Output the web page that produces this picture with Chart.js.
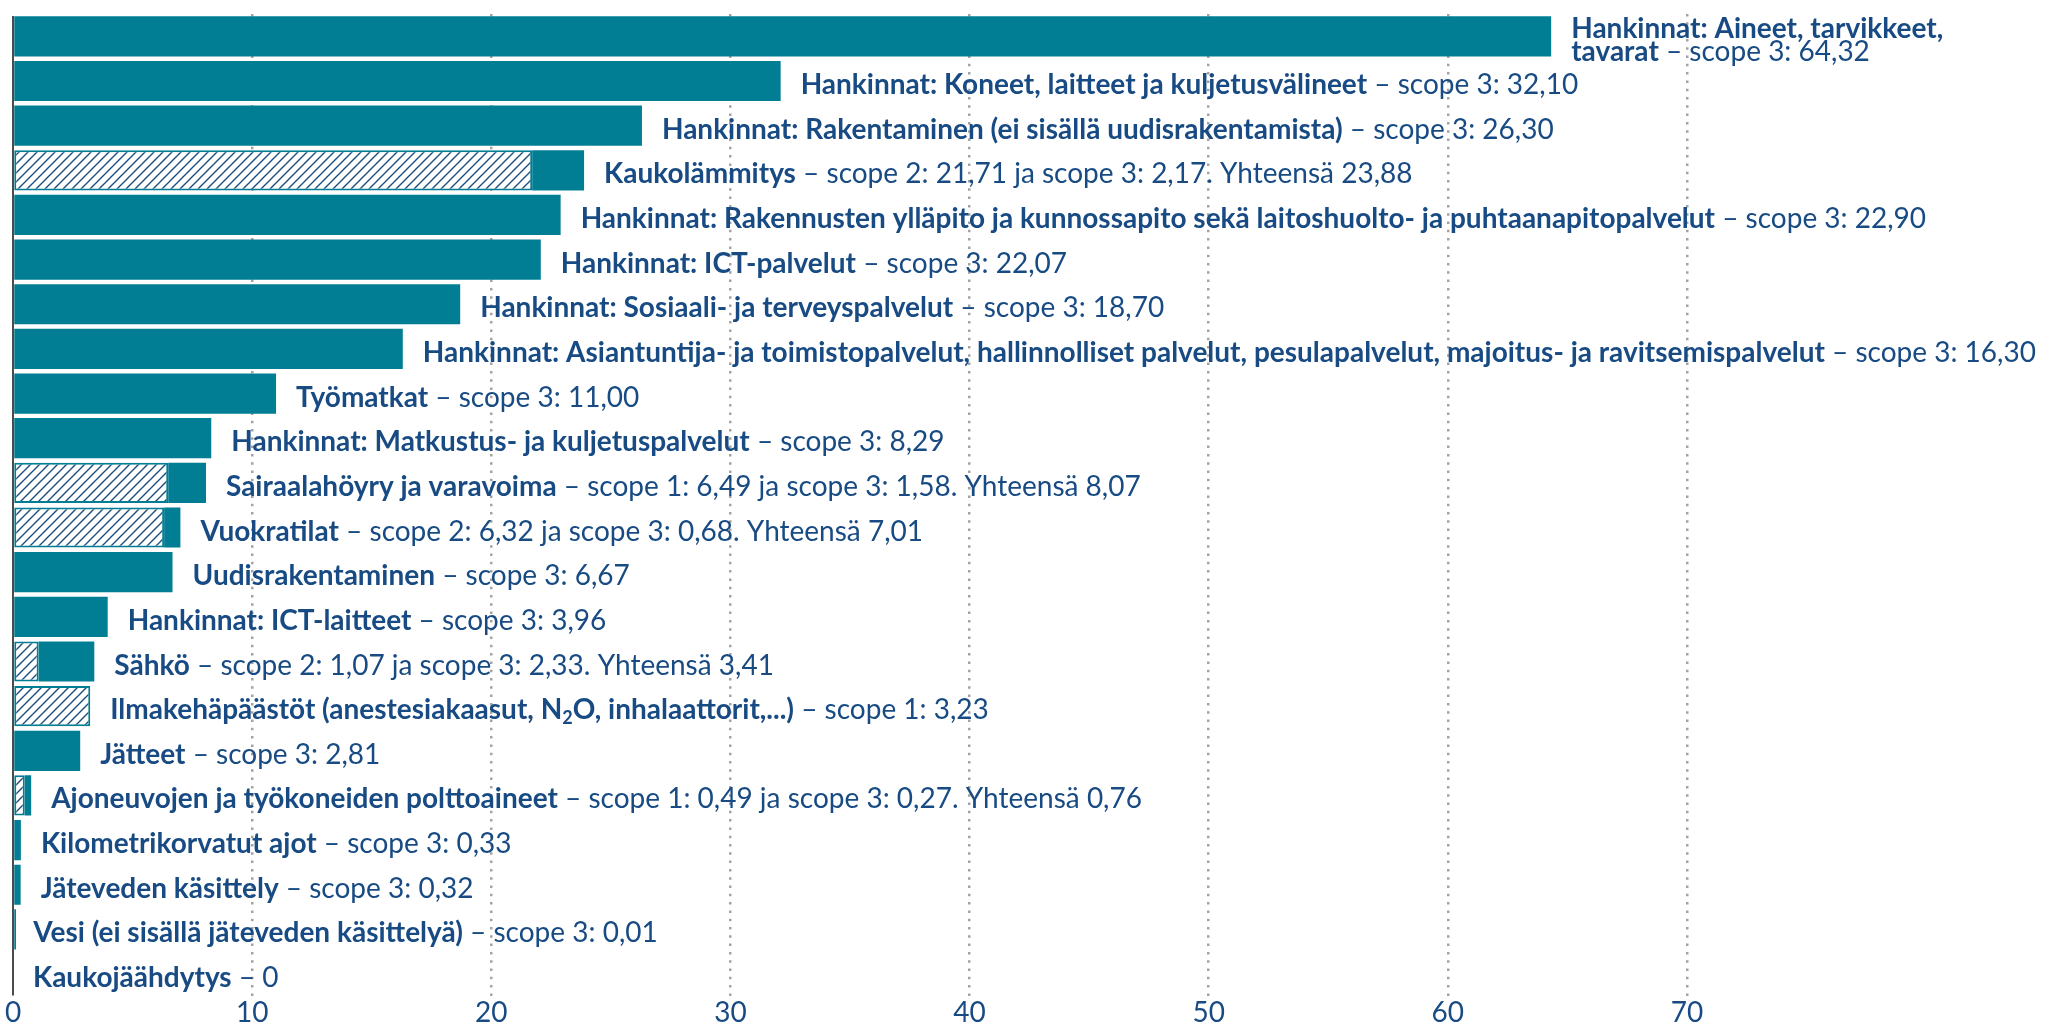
<!DOCTYPE html>
<html lang="fi">
<head>
  <meta charset="UTF-8" />
  <title>Päästöt luokittain</title>
  <script src="https://cdn.jsdelivr.net/npm/chart.js"></script>
  <style>
    html, body { margin: 0; padding: 0; background: #fff; }
    #wrap { width: 2049px; height: 1030px; }
  </style>
</head>
<body>
  <div id="wrap"><canvas id="chart" width="2049" height="1030"></canvas></div>

  <script>
    // Data (top to bottom); an array label means a line break
    const categories = [
      ['Hankinnat: Aineet, tarvikkeet,', 'tavarat'],
      'Hankinnat: Koneet, laitteet ja kuljetusvälineet',
      'Hankinnat: Rakentaminen (ei sisällä uudisrakentamista)',
      'Kaukolämmitys',
      'Hankinnat: Rakennusten ylläpito ja kunnossapito sekä laitoshuolto- ja puhtaanapitopalvelut',
      'Hankinnat: ICT-palvelut',
      'Hankinnat: Sosiaali- ja terveyspalvelut',
      'Hankinnat: Asiantuntija- ja toimistopalvelut, hallinnolliset palvelut, pesulapalvelut, majoitus- ja ravitsemispalvelut',
      'Työmatkat',
      'Hankinnat: Matkustus- ja kuljetuspalvelut',
      'Sairaalahöyry ja varavoima',
      'Vuokratilat',
      'Uudisrakentaminen',
      'Hankinnat: ICT-laitteet',
      'Sähkö',
      'Ilmakehäpäästöt (anestesiakaasut, N₂O, inhalaattorit,...)',
      'Jätteet',
      'Ajoneuvojen ja työkoneiden polttoaineet',
      'Kilometrikorvatut ajot',
      'Jäteveden käsittely',
      'Vesi (ei sisällä jäteveden käsittelyä)',
      'Kaukojäähdytys'
    ];
    // scope number of the hatched (scope 1 / scope 2) part, 0 = none
    const directScope  = [0, 0, 0, 2, 0, 0, 0, 0, 0, 0, 1, 2, 0, 0, 2, 1, 0, 1, 0, 0, 0, 0];
    const directValues = [0, 0, 0, 21.71, 0, 0, 0, 0, 0, 0, 6.49, 6.32, 0, 0, 1.07, 3.23, 0, 0.49, 0, 0, 0, 0];
    const scope3Values = [64.32, 32.10, 26.30, 2.17, 22.90, 22.07, 18.70, 16.30, 11.00, 8.29, 1.58, 0.68, 6.67, 3.96, 2.33, 0, 2.81, 0.27, 0.33, 0.32, 0.01, 0];
    const totals       = [64.32, 32.10, 26.30, 23.88, 22.90, 22.07, 18.70, 16.30, 11.00, 8.29, 8.07, 7.01, 6.67, 3.96, 3.41, 3.23, 2.81, 0.76, 0.33, 0.32, 0.01, 0];
    const xTicks = [0, 10, 20, 30, 40, 50, 60, 70];

    const TEAL = '#017e93';
    const NAVY = '#184b83';
    const FONT = 'Lato, "Open Sans", sans-serif';
    const FS = 28;

    const fmt = v => v.toFixed(2).replace('.', ',');

    function suffixFor(i) {
      const d = directValues[i], s = scope3Values[i];
      if (d > 0 && s > 0) return `– scope ${directScope[i]}: ${fmt(d)} ja scope 3: ${fmt(s)}. Yhteensä ${fmt(totals[i])}`;
      if (d > 0) return `– scope ${directScope[i]}: ${fmt(d)}`;
      if (s > 0) return `– scope 3: ${fmt(s)}`;
      return '– 0';
    }

    function hatchPattern(ctx) {
      const s = 9;
      const c = document.createElement('canvas');
      c.width = s; c.height = s;
      const g = c.getContext('2d');
      g.fillStyle = '#fff';
      g.fillRect(0, 0, s, s);
      g.strokeStyle = '#1b4d7e';
      g.lineWidth = 1.4;
      g.beginPath();
      g.moveTo(0, s); g.lineTo(s, 0);
      g.moveTo(-1, 1); g.lineTo(1, -1);
      g.moveTo(s - 1, s + 1); g.lineTo(s + 1, s - 1);
      g.stroke();
      return ctx.createPattern(c, 'repeat');
    }

    // split a label into styled pieces (words / spaces / line breaks)
    function piecesFor(i) {
      const runs = [];
      const name = [].concat(categories[i]);
      name.forEach((part, k) => {
        if (k > 0) runs.push({ br: true });
        part.split(/(₂)/).forEach(p => {
          if (p === '₂') runs.push({ t: '2', bold: true, sub: true });
          else if (p) runs.push({ t: p, bold: true });
        });
      });
      runs.push({ t: ' ' + suffixFor(i), bold: false });
      const pieces = [];
      runs.forEach(r => {
        if (r.br) { pieces.push({ br: true }); return; }
        r.t.split(/(\s+)/).forEach(w => {
          if (w) pieces.push({ t: w, bold: r.bold, sub: r.sub, space: /^\s+$/.test(w) });
        });
      });
      return pieces;
    }

    function setFont(ctx, p) {
      const size = p.sub ? Math.round(FS * 0.65) : FS;
      ctx.font = `${p.bold ? 700 : 400} ${size}px ${FONT}`;
    }

    const labelPlugin = {
      id: 'barLabels',
      afterDatasetsDraw(chart) {
        const { ctx, scales: { x, y } } = chart;
        const maxX = chart.width - 2;
        ctx.save();
        ctx.fillStyle = NAVY;
        ctx.textBaseline = 'middle';
        categories.forEach((c, i) => {
          const startX = x.getPixelForValue(directValues[i] + scope3Values[i]) + 20;
          const cy = y.getPixelForValue(i) + 4;
          // wrap into lines
          const lines = [[]];
          let cx = startX;
          piecesFor(i).forEach(p => {
            if (p.br) { lines.push([]); cx = startX; return; }
            setFont(ctx, p);
            const w = ctx.measureText(p.t).width;
            const line = lines[lines.length - 1];
            if (!p.space && cx + w > maxX && line.length) {
              while (line.length && line[line.length - 1].space) line.pop();
              lines.push([]);
              cx = startX;
            }
            const cur = lines[lines.length - 1];
            if (p.space && !cur.length) return;
            cur.push({ ...p, w });
            cx += w;
          });
          const lh = FS * 0.8;
          let ly = cy - (lines.length - 1) * lh / 2;
          lines.forEach(line => {
            let px = startX;
            line.forEach(p => {
              setFont(ctx, p);
              ctx.fillText(p.t, px, p.sub ? ly + FS * 0.27 : ly);
              px += p.w;
            });
            ly += lh;
          });
        });
        // vertical axis line
        const a = chart.chartArea;
        ctx.strokeStyle = '#111';
        ctx.lineWidth = 1.5;
        ctx.beginPath();
        ctx.moveTo(x.getPixelForValue(0), a.top + 2);
        ctx.lineTo(x.getPixelForValue(0), a.bottom - 1);
        ctx.stroke();
        ctx.restore();
      }
    };

    const ctx = document.getElementById('chart').getContext('2d');
    new Chart(ctx, {
      type: 'bar',
      data: {
        labels: categories,
        datasets: [
          {
            label: 'Scope 1 / 2',
            data: directValues.map(v => v || null),
            backgroundColor: hatchPattern(ctx),
            borderColor: TEAL,
            borderWidth: 2,
            borderSkipped: false
          },
          {
            label: 'Scope 3',
            data: scope3Values.map(v => v || null),
            backgroundColor: TEAL,
            borderWidth: 0,
            minBarLength: 3
          }
        ]
      },
      options: {
        indexAxis: 'y',
        responsive: false,
        animation: false,
        layout: { padding: { left: 13, right: 362, top: 14, bottom: 0 } },
        datasets: { bar: { barPercentage: 0.9, categoryPercentage: 1 } },
        scales: {
          x: {
            stacked: true,
            min: 0,
            max: 70,
            afterBuildTicks: axis => { axis.ticks = xTicks.map(v => ({ value: v })); },
            border: { display: false, dash: [2.5, 5.8] },
            grid: {
              drawTicks: false,
              color: c => (c.tick && c.tick.value === 0) ? 'rgba(0,0,0,0)' : '#a3a3a3',
              lineWidth: 2.5
            },
            ticks: {
              color: NAVY,
              padding: 0,
              font: { family: FONT, size: FS, weight: 400 }
            }
          },
          y: {
            stacked: true,
            display: false
          }
        },
        plugins: {
          legend: { display: false },
          tooltip: { enabled: false }
        }
      },
      plugins: [labelPlugin]
    });
  </script>
</body>
</html>
